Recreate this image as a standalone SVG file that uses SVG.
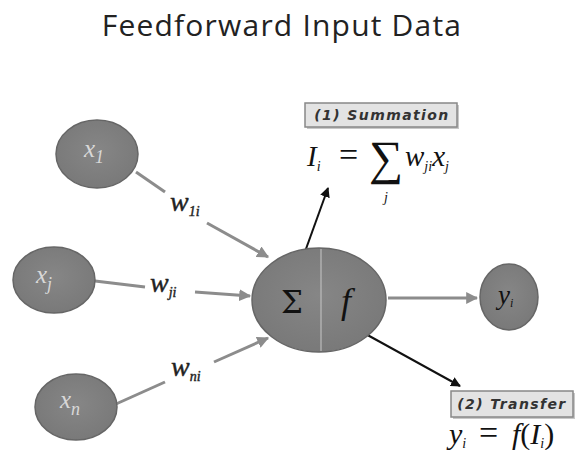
<svg xmlns="http://www.w3.org/2000/svg" width="580" height="450" viewBox="0 0 580 450">
  <defs>
    <marker id="arrGray" viewBox="0 0 10 10" refX="9" refY="5" markerWidth="4" markerHeight="4" orient="auto">
      <path d="M0,0 L10,5 L0,10 z" fill="#8c8c8c"/>
    </marker>
    <marker id="arrBlack" viewBox="0 0 10 10" refX="9" refY="5" markerWidth="5" markerHeight="5" orient="auto">
      <path d="M0,0 L10,5 L0,10 z" fill="#111"/>
    </marker>
    <radialGradient id="nodeFill" cx="50%" cy="45%" r="60%">
      <stop offset="0" stop-color="#868686"/>
      <stop offset="1" stop-color="#787878"/>
    </radialGradient>
  </defs>
  <style>
    .title { font-family: "Open Sans", "DejaVu Sans", sans-serif; font-size: 30px; letter-spacing: 1.2px; fill: #222; }
    .node { fill: url(#nodeFill); stroke: #666; stroke-width: 1.5; }
    .inlab { font-family: "Liberation Serif", serif; font-style: italic; font-size: 25px; fill: #d8d8d8; }
    .math { font-family: "Liberation Serif", serif; font-style: italic; fill: #111; }
    .wlab { font-family: "Liberation Serif", serif; font-style: italic; font-size: 28px; fill: #222; stroke: #222; stroke-width: 0.4; }
    .sub { font-size: 14px; }
    .edge { stroke: #8c8c8c; stroke-width: 3; fill: none; }
    .pointer { stroke: #111; stroke-width: 2; fill: none; }
    .tag { fill: #e3e3e3; stroke: #888; stroke-width: 1.5; }
    .tagshadow { fill: #c8c8c8; }
    .tagtext { font-family: "DejaVu Sans", sans-serif; font-style: italic; font-weight: bold; font-size: 14px; letter-spacing: 1.4px; fill: #333; }
  </style>

  <rect width="580" height="450" fill="#fff"/>

  <text class="title" x="282" y="36" text-anchor="middle">Feedforward Input Data</text>

  <!-- connectors -->
  <g id="connectors">
    <line class="edge" x1="136" y1="172" x2="165" y2="192"/>
    <line class="edge" x1="207" y1="223" x2="268" y2="257" marker-end="url(#arrGray)"/>
    <line class="edge" x1="95" y1="281" x2="145" y2="287"/>
    <line class="edge" x1="195" y1="292" x2="250" y2="296" marker-end="url(#arrGray)"/>
    <line class="edge" x1="116" y1="404" x2="165" y2="382"/>
    <line class="edge" x1="214" y1="362" x2="268" y2="338" marker-end="url(#arrGray)"/>
    <line class="edge" x1="388" y1="298" x2="477" y2="298" marker-end="url(#arrGray)"/>
    <line class="pointer" x1="298" y1="271" x2="328" y2="188" marker-end="url(#arrBlack)"/>
    <line class="pointer" x1="353" y1="327" x2="460" y2="386" marker-end="url(#arrBlack)"/>
  </g>

  <!-- weight labels -->
  <text class="wlab" x="170" y="211">w<tspan class="sub" dy="5">1i</tspan></text>
  <text class="wlab" x="150" y="292">w<tspan class="sub" dy="5">ji</tspan></text>
  <text class="wlab" x="171" y="376">w<tspan class="sub" dy="5">ni</tspan></text>

  <g id="node-x1">
    <ellipse class="node" cx="97" cy="154" rx="41" ry="34"/>
    <text class="inlab" x="84" y="157">x<tspan font-size="18" dy="6">1</tspan></text>
  </g>
  <g id="node-xj">
    <ellipse class="node" cx="54" cy="280" rx="41" ry="33"/>
    <text class="inlab" x="36" y="283">x<tspan font-size="18" dy="7">j</tspan></text>
  </g>
  <g id="node-xn">
    <ellipse class="node" cx="76" cy="407" rx="41" ry="33"/>
    <text class="inlab" x="60" y="408">x<tspan font-size="18" dy="7">n</tspan></text>
  </g>

  <g id="node-neuron">
    <ellipse class="node" cx="319" cy="300" rx="67" ry="52"/>
    <line x1="321" y1="249" x2="321" y2="351" stroke="#bdbdbd" stroke-width="1.2"/>
    <text x="281" y="313" font-family="DejaVu Serif, serif" font-size="31" fill="#111">Σ</text>
    <text class="math" x="341" y="313" font-size="36">f</text>
  </g>

  <g id="node-yi">
    <ellipse class="node" cx="509" cy="297" rx="29" ry="33"/>
    <text class="math" x="498" y="304" font-size="27">y<tspan font-size="12" dy="3">i</tspan></text>
  </g>

  <g id="summation">
    <rect class="tagshadow" x="307" y="105" width="152" height="24"/>
    <rect class="tag" x="305" y="103" width="152" height="24"/>
    <text class="tagtext" x="382" y="120" text-anchor="middle">(1) Summation</text>
    <text class="math" x="307" y="166" font-size="29">I<tspan font-size="14" dy="5">i</tspan></text>
    <text x="339" y="166" font-family="Liberation Serif, serif" font-size="34" fill="#111">=</text>
    <text x="369" y="174" font-family="Liberation Serif, serif" font-size="48" fill="#111">∑</text>
    <text class="math" x="384" y="202" font-size="14">j</text>
    <text class="math" x="405" y="166" font-size="29">w<tspan font-size="14" dy="5">ji</tspan><tspan dy="-5">x</tspan><tspan font-size="14" dy="5">j</tspan></text>
  </g>

  <g id="transfer">
    <rect class="tagshadow" x="453" y="393" width="122" height="26"/>
    <rect class="tag" x="451" y="391" width="122" height="26"/>
    <text class="tagtext" x="512" y="409" text-anchor="middle">(2) Transfer</text>
    <text class="math" x="449" y="444" font-size="30">y<tspan font-size="14" dy="4">i</tspan></text>
    <text x="479" y="444" font-family="Liberation Serif, serif" font-size="34" fill="#111">=</text>
    <text class="math" x="512" y="444" font-size="30">f<tspan font-style="normal">(</tspan>I<tspan font-size="14" dy="4">i</tspan><tspan font-style="normal" dy="-4">)</tspan></text>
  </g>
</svg>
